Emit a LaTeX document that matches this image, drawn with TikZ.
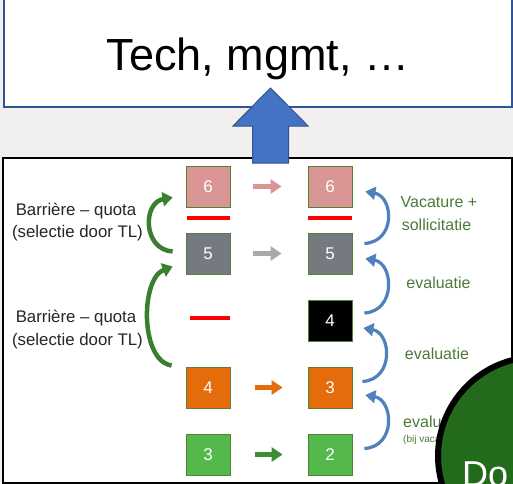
\documentclass[tikz,border=0pt]{standalone}
\usepackage{fontspec}
\setmainfont{Liberation Sans}
\usetikzlibrary{arrows.meta,calc}
\definecolor{bgc}{RGB}{242,239,239}
\definecolor{topblue}{RGB}{47,85,151}
\definecolor{arrowblue}{RGB}{68,114,196}
\definecolor{arrowedge}{RGB}{47,82,143}
\definecolor{sqedge}{RGB}{84,130,53}
\definecolor{pinkc}{RGB}{218,150,148}
\definecolor{grayc}{RGB}{118,122,128}
\definecolor{orangec}{RGB}{228,108,10}
\definecolor{greenc}{RGB}{84,184,74}
\definecolor{garrow}{RGB}{62,140,52}
\definecolor{harrgray}{RGB}{170,170,170}
\definecolor{arcblue}{RGB}{79,129,189}
\definecolor{arcgreen}{RGB}{56,128,46}
\definecolor{tgreen}{RGB}{76,122,58}
\definecolor{dotgreen}{RGB}{36,106,29}
\definecolor{tdark}{RGB}{38,38,38}
\begin{document}
\begin{tikzpicture}[x=1pt,y=-1pt,
  sqr/.style={draw=sqedge,line width=0.8pt,minimum width=44pt,minimum height=41pt,inner sep=0pt,text=white,font=\fontsize{17}{20}\selectfont},
  harrow/.style={line width=5pt,-{Triangle[width=14pt,length=11pt]}},
  barc/.style={draw=arcblue,line width=3.2pt,-{Triangle[width=13pt,length=10pt]}},
  garc/.style={draw=arcgreen,line width=4.5pt,-{Triangle[width=14pt,length=10pt]}},
  redln/.style={draw=red,line width=3.2pt},
  lbl/.style={inner sep=0pt,text=tdark,font=\fontsize{16.8}{19}\selectfont},
  glbl/.style={inner sep=0pt,text=tgreen,font=\fontsize{16}{19}\selectfont}]
\useasboundingbox (0,0) rectangle (513,483);
\fill[bgc] (0,0) rectangle (513,483);
% top box
\node[draw=topblue,line width=1.5pt,fill=white,minimum width=508pt,minimum height=112pt,inner sep=0pt,anchor=north west] (topbox) at (3,-6) {};
\node[anchor=base,inner sep=0pt,font=\fontsize{45}{50}\selectfont] (tech) at (258,70) {Tech, mgmt, …};
% lower panel
\node[draw=black,line width=2pt,fill=white,minimum width=509pt,minimum height=325pt,inner sep=0pt,anchor=north west] (panel) at (2,157) {};
% squares
\node[sqr,fill=pinkc] (L6) at (208,186.5) {6};
\node[sqr,fill=grayc] (L5) at (208,253.5) {5};
\node[sqr,fill=orangec] (L4) at (208,387.5) {4};
\node[sqr,fill=greenc] (L3) at (208,454.5) {3};
\node[sqr,fill=pinkc] (R6) at (330,186.5) {6};
\node[sqr,fill=grayc] (R5) at (330,253.5) {5};
\node[sqr,fill=black] (R4) at (330,321) {4};
\node[sqr,fill=orangec] (R3) at (330,387.5) {3};
\node[sqr,fill=greenc] (R2) at (330,454.5) {2};
% red lines
\draw[redln] (187,218) -- (230,218);
\draw[redln] (308,218) -- (352,218);
\draw[redln] (190,318) -- (230,318);
% horizontal arrows
\draw[harrow,pinkc,shorten <=23pt,shorten >=26pt] (L6.east) -- (R6.west);
\draw[harrow,harrgray,shorten <=23pt,shorten >=26pt] (L5.east) -- (R5.west);
\draw[harrow,orangec,shorten <=25pt,shorten >=25pt] (L4.east) -- (R3.west);
\draw[harrow,garrow,shorten <=25pt,shorten >=25pt] (L3.east) -- (R2.west);
% blue curved arrows
\draw[barc] ($(R5.east)+(12,-10)$) .. controls +(32,-2) and +(28,5) .. ($(R6.east)+(13,5)$);
\draw[barc] ($(R4.east)+(12,-8)$) .. controls +(32,-2) and +(28,5) .. ($(R5.east)+(13,5)$);
\draw[barc] ($(R3.east)+(10,-6)$) .. controls +(32,-2) and +(28,5) .. ($(R4.east)+(11,7)$);
\draw[barc] ($(R2.east)+(12,-6)$) .. controls +(32,-2) and +(28,5) .. ($(R3.east)+(13,7.5)$);
% green curved arrows
\draw[garc] ($(L5.west)+(-13,-2)$) .. controls +(-30,-2) and +(-30,5) .. ($(L6.west)+(-13,11)$);
\draw[garc] ($(L4.west)+(-14,-22)$) .. controls +(-32,-5) and +(-32,12) .. ($(L5.west)+(-13,13)$);
% labels
\node[lbl,anchor=base] (bq1a) at (76,215) {Barrière – quota};
\node[lbl,anchor=base] (bq1b) at (77.5,237) {(selectie door TL)};
\node[lbl,anchor=base] (bq2a) at (76,322) {Barrière – quota};
\node[lbl,anchor=base] (bq2b) at (77.5,345) {(selectie door TL)};
\node[glbl,anchor=base] (vac) at (439,207) {Vacature +};
\node[glbl,anchor=base] (sol) at (436.5,230) {sollicitatie};
\node[glbl,anchor=base] (ev1) at (438.5,288) {evaluatie};
\node[glbl,anchor=base] (ev2) at (437,359) {evaluatie};
\node[glbl,anchor=base west] (ev3) at (403,427) {evaluatie};
\node[glbl,anchor=base west,font=\fontsize{10}{12}\selectfont] (bij) at (403,442) {(bij vacature)};
% big blue arrow
\draw[fill=arrowblue,draw=arrowedge,line width=1pt] (252.5,163) -- (252.5,126) -- (233,126) -- (270.5,88) -- (308,126) -- (288.5,126) -- (288.5,163) -- cycle;
% green circle
\node[circle,draw=black,line width=6pt,fill=dotgreen,minimum size=198pt,inner sep=0pt] (dot) at (537,456) {};
\node[anchor=base west,inner sep=0pt,text=white,font=\fontsize{36}{40}\selectfont] (do) at (462,486) {Do};
\end{tikzpicture}
\end{document}
